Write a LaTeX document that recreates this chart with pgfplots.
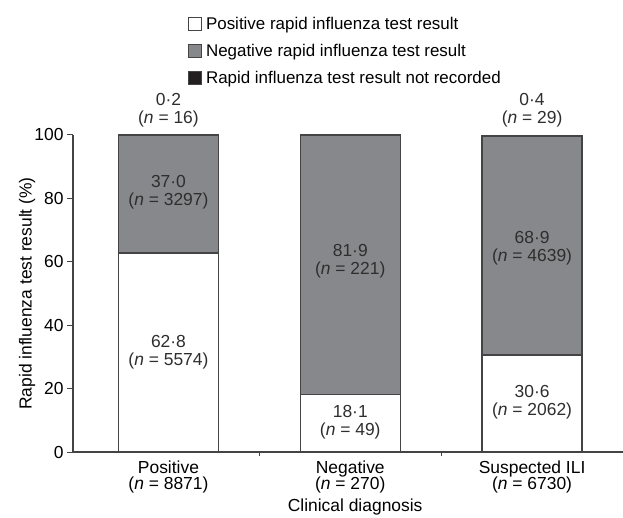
\documentclass[border=0pt]{standalone}
\usepackage{fontspec}
\setmainfont{Liberation Sans}
\usepackage{pgfplots}
\pgfplotsset{compat=1.18}
\usepackage{pgfplotstable}

\definecolor{barGray}{HTML}{87888C}
\definecolor{barBlack}{HTML}{231F20}
\definecolor{edgeGray}{HTML}{444444}
\definecolor{inkGray}{HTML}{2E2E2E}

% share of each result per clinical diagnosis (%)
\pgfplotstableread{
x pos neg nr
0 62.8 37.0 0.2
1 18.1 81.9 0.0
2 30.6 68.9 0.4
}\results

\newcommand{\lbl}{\fontsize{17.5}{18}\selectfont}
\tikzset{lab/.style={align=center, font=\lbl, text=inkGray}}
\pgfplotsset{sq/.style={legend image code/.code={\draw[#1, draw=edgeGray, line width=0.9bp] (0bp,-6.5bp) rectangle (13bp,6.5bp);}}}

\begin{document}
\begin{tikzpicture}
\begin{axis}[
  name=ax,
  scale only axis,
  width=550bp, height=317bp,
  xmin=-0.525, xmax=2.5,
  ymin=0, ymax=100,
  clip=false,
  ybar stacked,
  bar width=100bp,
  axis x line=bottom,
  axis y line=left,
  axis line style={-, draw=edgeGray, line width=1.3bp},
  every tick/.style={draw=edgeGray, line width=1bp},
  tick align=outside,
  major tick length=6bp,
  ytick={0,20,...,100},
  xtick={0,1,2},
  x tick style={draw=none},
  xticklabels={{Positive\\(\textit{n} = 8871)},{Negative\\(\textit{n} = 270)},{Suspected ILI\\(\textit{n} = 6730)}},
  extra x ticks={0.5,1.5},
  extra x tick labels={},
  extra x tick style={major tick length=4bp, x tick style={draw=edgeGray}},
  x tick label style={align=center, font=\fontsize{17.5}{16.5}\selectfont, yshift=1bp},
  y tick label style={font=\lbl},
  /pgf/number format/assume math mode=true,
  xlabel={Clinical diagnosis},
  ylabel={Rapid influenza test result (\%)},
  xlabel style={at={(axis description cs:0.513,-0.172)}, anchor=center, font=\lbl},
  ylabel style={at={(axis description cs:-0.0836,0.5)}, anchor=center, font=\lbl},
  legend style={at={(axis description cs:0.2036,1.3845)}, anchor=north west,
    draw=none, fill=none, font=\fontsize{17}{18}\selectfont, row sep=9bp,
    /tikz/every odd column/.append style={column sep=2bp}},
  legend cell align=left,
]
\addplot[fill=white, draw=edgeGray, line width=1.3bp, sq] table[x=x, y=pos] {\results};
\addlegendentry{Positive rapid influenza test result}
\addplot[fill=barGray, draw=edgeGray, line width=1.3bp, sq] table[x=x, y=neg] {\results};
\addlegendentry{Negative rapid influenza test result}
\addplot[fill=barBlack, draw=edgeGray, line width=1.3bp, sq] table[x=x, y=nr] {\results};
\addlegendentry{Rapid influenza test result not recorded}

\coordinate (p0w) at (axis cs:0,31.4);
\coordinate (p0g) at (axis cs:0,82.0);
\coordinate (p0k) at (axis cs:0,107.8);
\coordinate (p1w) at (axis cs:1,9.4);
\coordinate (p1g) at (axis cs:1,60.3);
\coordinate (p2w) at (axis cs:2,15.8);
\coordinate (p2g) at (axis cs:2,64.3);
\coordinate (p2k) at (axis cs:2,107.8);
\end{axis}
\node[lab] at (p0w) {62·8\\(\textit{n} = 5574)};
\node[lab] at (p0g) {37·0\\(\textit{n} = 3297)};
\node[lab] at (p0k) {0·2\\(\textit{n} = 16)};
\node[lab] at (p1w) {18·1\\(\textit{n} = 49)};
\node[lab] at (p1g) {81·9\\(\textit{n} = 221)};
\node[lab] at (p2w) {30·6\\(\textit{n} = 2062)};
\node[lab] at (p2g) {68·9\\(\textit{n} = 4639)};
\node[lab] at (p2k) {0·4\\(\textit{n} = 29)};
\pgfresetboundingbox
\path ([xshift=-73bp,yshift=-66bp]ax.south west) rectangle ([yshift=135bp]ax.north east);
\end{tikzpicture}
\end{document}
